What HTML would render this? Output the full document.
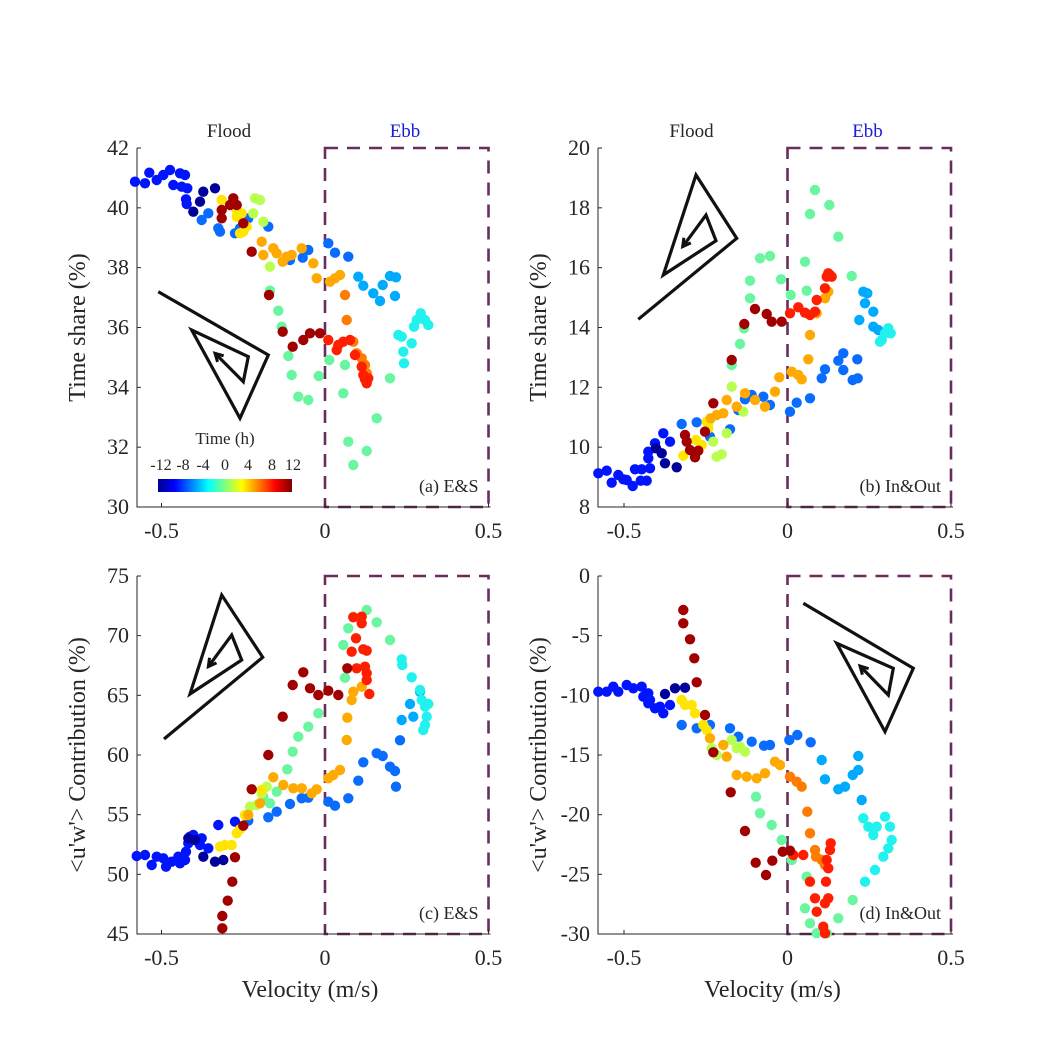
<!DOCTYPE html>
<html><head><meta charset="utf-8"><style>
html,body{margin:0;padding:0;background:#fff}
svg{display:block}
text{font-family:"Liberation Serif",serif;fill:#262626}
</style></head><body>
<svg id="s" width="1050" height="1050" viewBox="0 0 1050 1050" xmlns="http://www.w3.org/2000/svg">
<rect width="1050" height="1050" fill="#fff"/>
<g id="g"></g>
</svg>
<script>
var C={N:'#00009a',B:'#0014ff',L:'#0a6cff',C:'#00aaff',Q:'#22f2ee',G:'#6af5a0',Y:'#b8ff50',y:'#ffe600',O:'#ffaa00',o:'#ff7c00',R:'#ff1e00',D:'#a00000'};
var P={
a:{ox:100,oy:120,pts:{
B:[[105,185],[135,190],[148,158],[170,180],[190,165],[210,150],[220,195],[240,160],[255,165],[245,200],[262,205],[258,238],[260,252]],
N:[[280,275],[300,245],[310,215],[345,205]],
L:[[305,300],[325,280],[355,325],[360,335],[405,340],[420,325],[445,295],[505,320],[570,420],[608,413],[625,390],[685,370],[705,398],[745,410]],
C:[[775,470],[790,497],[820,520],[840,543],[848,495],[870,468],[888,472],[885,528]],
Q:[[895,645],[905,650],[910,695],[912,730],[935,670],[942,620],[950,600],[962,580],[975,600],[985,615]],
G:[[870,775],[830,895],[800,993],[760,1035],[745,965],[730,820],[735,735],[688,720],[656,768],[625,840],[595,830],[575,765],[565,708],[545,620],[535,572],[510,512]],
Y:[[510,440],[490,305],[465,235],[480,240],[460,280]],
y:[[365,240],[410,270],[425,280],[410,290],[440,320],[430,335],[420,340]],
O:[[485,365],[490,405],[520,385],[530,400],[548,425],[560,410],[575,405],[605,385],[640,430],[650,475],[690,485],[705,475],[720,465]],
o:[[735,525],[740,600],[760,665],[770,700],[785,715],[795,735],[800,760]],
R:[[685,660],[715,675],[730,665],[750,660],[765,705],[785,740],[790,765],[795,778],[800,790],[805,775],[710,690]],
D:[[660,640],[630,640],[610,660],[578,680],[548,635],[507,525],[455,395],[430,310],[400,235],[410,255],[390,255],[365,270],[365,295]]},
spiral:[[175,515],[505,705],[420,895],[275,630],[445,710],[430,785],[345,700]]},
b:{ox:580,oy:120,pts:{
B:[[55,1060],[80,1052],[95,1088],[115,1065],[130,1078],[140,1080],[158,1098],[165,1048],[185,1048],[182,1082],[200,1082],[210,1045],[205,1015],[205,995],[225,970],[250,940],[270,965]],
N:[[228,985],[255,1030],[290,1042],[245,1000]],
L:[[305,912],[350,907],[390,950],[450,928],[475,870],[495,838],[515,825],[550,830],[570,855],[630,875],[650,848],[690,835],[725,775],[735,748],[775,722],[790,700],[790,750],[818,780],[833,775],[832,718]],
C:[[838,600],[850,515],[862,520],[855,550],[880,575],[880,620],[895,630]],
Q:[[905,660],[915,640],[925,625],[932,640],[900,665]],
G:[[705,210],[690,282],[748,255],[775,350],[815,468],[675,425],[680,512],[632,525],[603,478],[570,408],[540,415],[510,482],[510,535],[492,625],[480,672],[455,735]],
Y:[[455,800],[490,875],[410,1010],[425,1003],[440,940],[400,965],[385,910]],
y:[[310,1007],[365,975],[348,960],[380,905],[385,925]],
O:[[392,895],[410,885],[430,880],[440,840],[470,860],[495,820],[525,840],[555,860],[585,815],[598,772],[635,755],[655,765],[665,778],[685,718],[690,645],[735,535],[745,515],[710,580]],
R:[[630,580],[655,562],[675,578],[690,585],[705,575],[710,540],[735,505],[740,470],[745,460],[750,465],[755,470]],
D:[[525,567],[560,582],[575,605],[605,605],[493,612],[455,720],[400,850],[315,945],[320,965],[330,990],[345,1012],[355,992],[375,935]]},
spiral:[[175,598],[470,355],[348,165],[250,465],[408,362],[378,285],[308,380]]},
c:{ox:100,oy:540,pts:{
B:[[110,948],[135,945],[155,975],[170,950],[190,955],[198,980],[215,965],[235,950],[240,970],[255,960],[258,935],[265,910],[270,890],[280,885],[300,915],[305,895],[325,925],[355,855],[405,845]],
N:[[310,950],[345,965],[370,960],[265,895],[285,900]],
L:[[445,842],[505,832],[530,815],[570,792],[605,775],[625,773],[685,785],[705,797],[745,775],[775,722],[790,667],[830,640],[848,648],[870,680],[885,693],[888,740],[900,601]],
C:[[905,540],[930,492],[940,530],[960,455]],
Q:[[965,480],[975,500],[985,492],[980,530],[975,555],[970,570],[960,450],[935,412],[907,375],[905,358]],
G:[[870,300],[830,247],[800,210],[760,230],[745,265],[730,315],[735,413],[655,520],[625,560],[595,590],[578,635],[562,688],[530,755],[510,790],[490,770]],
Y:[[500,740],[485,760],[470,795],[450,800]],
y:[[435,825],[420,868],[410,880],[395,915],[375,915],[360,920],[485,750]],
O:[[445,825],[480,790],[520,712],[550,735],[580,745],[605,745],[635,760],[650,748],[685,715],[700,705],[720,690],[740,600],[742,533],[755,480],[760,455],[785,440]],
R:[[760,232],[785,230],[785,250],[768,295],[755,335],[790,328],[800,332],[795,380],[800,400],[800,420],[808,462],[770,385]],
D:[[742,385],[685,452],[715,465],[655,465],[630,445],[610,397],[578,435],[548,530],[505,645],[455,748],[430,857],[405,952],[397,1025],[383,1082],[367,1128],[367,1165]]},
spiral:[[192,597],[488,352],[365,165],[270,462],[425,360],[395,285],[325,380]]},
d:{ox:560,oy:540,pts:{
B:[[115,455],[140,455],[160,440],[175,455],[200,435],[220,445],[245,440],[250,470],[265,460],[270,480],[285,505],[300,500],[310,520],[330,495],[265,490]],
N:[[315,462],[345,445],[375,443]],
L:[[365,555],[410,565],[450,555],[510,565],[535,590],[575,605],[612,617],[630,615],[688,600],[712,585],[752,607]],
C:[[785,660],[795,718],[835,748],[855,740],[878,705],[895,690],[895,648],[905,780]],
Q:[[910,835],[925,860],[940,885],[950,860],[975,830],[990,860],[995,900],[985,925],[970,950],[945,990],[915,1025]],
G:[[878,1080],[835,1135],[800,1180],[770,1180],[750,1150],[735,1105],[740,1010],[695,960],[665,900],[635,855],[600,820],[588,770]],
Y:[[555,635],[540,620],[515,600],[530,625],[470,645],[455,625]],
y:[[440,570],[430,555],[405,520],[395,495],[375,495],[365,480]],
O:[[450,595],[490,615],[500,650],[530,705],[560,710],[590,715],[615,700],[645,665],[660,675]],
o:[[690,710],[710,725],[725,740],[742,815],[750,880],[765,930],[768,950],[785,960],[795,975]],
R:[[812,910],[810,930],[800,960],[805,985],[798,1025],[805,1075],[795,1090],[765,1075],[770,1115],[750,1025],[790,1160],[795,1180],[700,945],[730,945]],
D:[[370,210],[370,250],[390,298],[403,355],[410,427],[435,525],[460,637],[512,757],[555,873],[587,968],[618,1005],[637,962],[668,935],[690,932]]},
spiral:[[730,190],[1060,385],[975,575],[830,310],[1000,385],[985,465],[900,378]]}
};
var h='';
function T(x,y,s,sz,anchor,extra){h+='<text x="'+x+'" y="'+y+'" font-size="'+sz+'" text-anchor="'+(anchor||'middle')+'" '+(extra||'')+'>'+s+'</text>';}
function axes(L,top,bot,x0,ylabs,xlabel,ylabel,tag,title){
  var R=x0+163.5, dx=163.5;
  h+='<rect x="'+x0+'" y="'+top+'" width="'+dx+'" height="'+(bot-top)+'" fill="none" stroke="#6a2c5c" stroke-width="2.6" stroke-dasharray="13,9"/>';
  h+='<path d="M'+L+' '+top+'V'+bot+'H'+(R+2)+'" fill="none" stroke="#262626" stroke-width="1"/>';
  var xs=[[x0-dx,'-0.5'],[x0,'0'],[R,'0.5']];
  xs.forEach(function(t){h+='<path d="M'+t[0]+' '+bot+'v-4" stroke="#262626"/>';T(t[0],bot+31,t[1],22);});
  var n=ylabs.length;
  ylabs.forEach(function(l,i){var y=bot-(bot-top)*i/(n-1);h+='<path d="M'+L+' '+y+'h4" stroke="#262626"/>';T(L-8,y+7,l,22,'end');});
  if(xlabel)T(x0-15,bot+63,xlabel,24);
  var cy=(top+bot)/2;T(L-52,cy,ylabel,24,'middle','transform="rotate(-90 '+(L-52)+' '+cy+')"');
  T(R-10,bot-15,tag,18,'end');
  if(title){T(x0-96,top-11,'Flood',19);h+='<text x="'+(x0+80)+'" y="'+(top-11)+'" font-size="19" text-anchor="middle" style="fill:#1a1ad8">Ebb</text>';}
}
axes(137,148,507,325,['30','32','34','36','38','40','42'],null,'Time share (%)','(a) E&amp;S',1);
axes(598,148,507,787.5,['8','10','12','14','16','18','20'],null,'Time share (%)','(b) In&amp;Out',1);
axes(137,576,934,325,['45','50','55','60','65','70','75'],'Velocity (m/s)','&lt;u\'w\'&gt; Contribution (%)','(c) E&amp;S',0);
axes(598,576,934,787.5,['-30','-25','-20','-15','-10','-5','0'],'Velocity (m/s)','&lt;u\'w\'&gt; Contribution (%)','(d) In&amp;Out',0);
['a','b','c','d'].forEach(function(k){
  var p=P[k];
  for(var c in p.pts){p.pts[c].forEach(function(q){h+='<circle cx="'+(p.ox+q[0]/3).toFixed(1)+'" cy="'+(p.oy+q[1]/3).toFixed(1)+'" r="5.2" fill="'+C[c]+'"/>';});}
  var s=p.spiral.map(function(q){return [(p.ox+q[0]/3),(p.oy+q[1]/3)];});
  var d='M'+s.map(function(q){return q[0].toFixed(1)+' '+q[1].toFixed(1)}).join('L');
  h+='<path d="'+d+'" fill="none" stroke="#111" stroke-width="3.2" stroke-linejoin="miter"/>';
  var a=s[5],b=s[6],ang=Math.atan2(b[1]-a[1],b[0]-a[0]),L=9;
  var p1=[b[0]-L*Math.cos(ang-0.5),b[1]-L*Math.sin(ang-0.5)],p2=[b[0]-L*Math.cos(ang+0.5),b[1]-L*Math.sin(ang+0.5)];
  h+='<path d="M'+p1[0]+' '+p1[1]+'L'+b[0]+' '+b[1]+'L'+p2[0]+' '+p2[1]+'" fill="none" stroke="#111" stroke-width="3"/>';
});
h+='<defs><linearGradient id="jet"><stop offset="0" stop-color="#00008f"/><stop offset="0.125" stop-color="#0000ff"/><stop offset="0.375" stop-color="#00ffff"/><stop offset="0.625" stop-color="#ffff00"/><stop offset="0.875" stop-color="#ff0000"/><stop offset="1" stop-color="#800000"/></linearGradient></defs>';
h+='<rect x="158" y="479" width="134" height="13" fill="url(#jet)"/>';
T(225,444,'Time (h)',17);
[['-12',161],['-8',183],['-4',203],['0',225],['4',248],['8',272],['12',293]].forEach(function(t){T(t[1],470,t[0],16);});
document.getElementById('g').innerHTML=h;
</script>
</body></html>
